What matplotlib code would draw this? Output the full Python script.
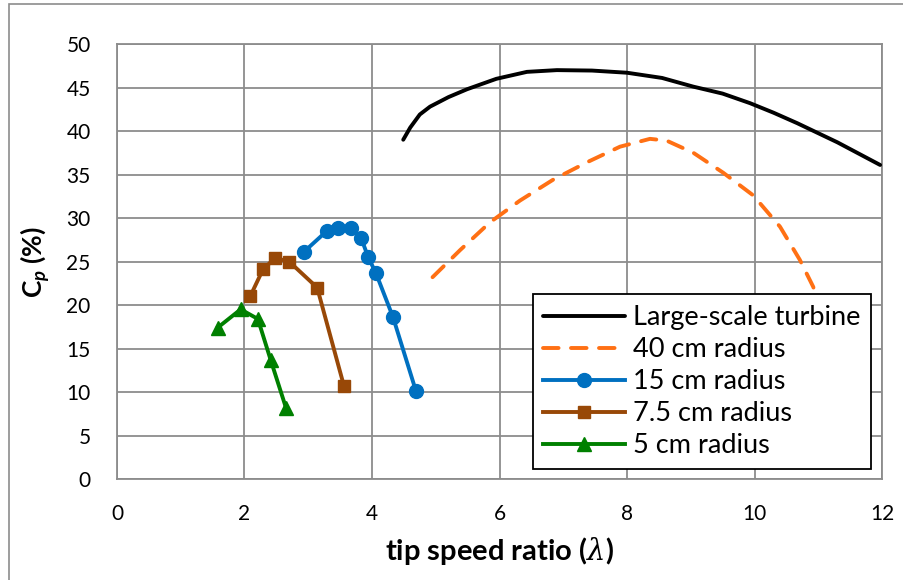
import matplotlib
matplotlib.use("Agg")
import matplotlib.pyplot as plt
from matplotlib.patches import Rectangle

plt.rcParams["font.family"] = ["Lato", "DejaVu Sans"]
plt.rcParams["mathtext.fontset"] = "custom"
plt.rcParams["mathtext.rm"] = "Lato"
plt.rcParams["mathtext.bf"] = "Lato:bold"
plt.rcParams["mathtext.it"] = "DejaVu Serif:italic"
plt.rcParams["mathtext.bfit"] = "Lato:bold:italic"

# Large-scale turbine curve
large_tsr = [4.49, 4.6, 4.75, 4.91, 5.2, 5.49, 5.95, 6.43, 6.9, 7.45, 8.0, 8.55, 9.04, 9.5, 9.93, 10.3, 10.67, 11.3, 11.97]
large_cp = [39.0, 40.4, 41.9, 42.8, 43.9, 44.8, 46.0, 46.8, 47.0, 46.95, 46.7, 46.1, 45.1, 44.3, 43.2, 42.1, 40.9, 38.7, 36.1]

# 40 cm radius rotor
r40_tsr = [4.95, 5.38, 5.85, 6.32, 6.84, 7.37, 7.89, 8.36, 8.62, 9.04, 9.51, 9.98, 10.4, 10.71, 10.92, 11.2]
r40_cp = [23.2, 26.3, 29.5, 32.0, 34.4, 36.4, 38.2, 39.1, 38.9, 37.5, 35.2, 32.6, 29.0, 25.2, 22.1, 16.0]

# 15 cm radius rotor
r15_tsr = [2.93, 3.29, 3.47, 3.67, 3.83, 3.94, 4.06, 4.33, 4.69]
r15_cp = [26.1, 28.5, 28.85, 28.85, 27.7, 25.5, 23.7, 18.6, 10.1]

# 7.5 cm radius rotor
r75_tsr = [2.09, 2.29, 2.48, 2.70, 3.14, 3.56]
r75_cp = [21.0, 24.1, 25.4, 25.0, 22.0, 10.7]

# 5 cm radius rotor
r5_tsr = [1.58, 1.94, 2.21, 2.41, 2.65]
r5_cp = [17.4, 19.5, 18.4, 13.7, 8.2]

fig = plt.figure(figsize=(9.04, 5.8), dpi=100)
ax = fig.add_axes([0.1294, 0.1741, 0.8463, 0.75])

# outer chart border
fig.patches.append(Rectangle((9 / 904, -0.01), 1.0, 1 - 4 / 580 + 0.01,
                             transform=fig.transFigure, fill=False,
                             edgecolor="#8c8c8c", linewidth=1.2))

ax.plot(large_tsr, large_cp, color="black", lw=2.8, label="Large-scale turbine",
        solid_capstyle="round", solid_joinstyle="round", zorder=3)
ax.plot(r40_tsr, r40_cp, color="#FF7014", lw=2.8, dashes=(4, 3.2),
        dash_capstyle="round", label="40 cm radius", zorder=3)
ax.plot(r15_tsr, r15_cp, color="#0070C0", lw=2.8, marker="o", ms=10,
        label="15 cm radius", zorder=3)
ax.plot(r75_tsr, r75_cp, color="#984807", lw=2.8, marker="s", ms=8.5,
        label="7.5 cm radius", zorder=3)
ax.plot(r5_tsr, r5_cp, color="#008000", lw=2.8, marker="^", ms=9.5,
        label="5 cm radius", zorder=3)

ax.set_xlim(0, 12)
ax.set_ylim(0, 50)
ax.set_xticks(range(0, 13, 2))
ax.set_yticks(range(0, 51, 5))
ax.grid(True, color="#8c8c8c", lw=1.3)
ax.set_axisbelow(True)
for s in ax.spines.values():
    s.set_color("#8c8c8c")
    s.set_linewidth(1.3)
ax.tick_params(length=0, labelsize=15)
ax.tick_params(axis="y", pad=19)
ax.tick_params(axis="x", pad=18)

ax.set_xlabel(r"tip speed ratio ($\lambda$)", fontsize=21, fontweight="bold", labelpad=8)
ax.set_ylabel(r"$\mathbf{C}_{\boldsymbol{p}}$ (%)", fontsize=19, fontweight="bold", labelpad=10)

leg = ax.legend(loc="lower right", bbox_to_anchor=(0.9856, 0.023), fontsize=19.5,
                frameon=True, fancybox=False, framealpha=1, edgecolor="black",
                handlelength=3.0, handletextpad=0.3, borderpad=0.4,
                labelspacing=0.26, borderaxespad=0)
leg.get_frame().set_linewidth(1.3)

fig.savefig("out.png", dpi=100)
